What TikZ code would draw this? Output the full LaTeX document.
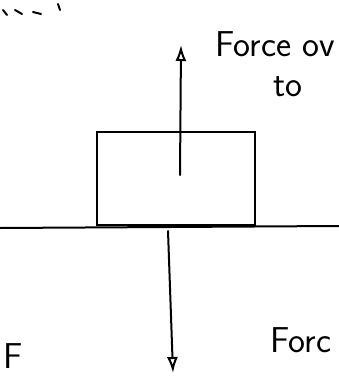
\documentclass[tikz,border=0pt]{standalone}
\usepackage{tikz}
\usetikzlibrary{arrows.meta}

\begin{document}
\begin{tikzpicture}[x=1pt,y=-1pt,>={Latex[length=16pt,width=11pt,open]},
    pen/.style={line width=2pt,line cap=round},
    note/.style={font=\sffamily\fontsize{36}{38}\selectfont,inner sep=0pt},
    block/.style={pen,draw,minimum width=158pt,minimum height=93pt,inner sep=0pt}]
  \useasboundingbox (0,0) rectangle (339,377);
  % ground and the block resting on it
  \coordinate (gl) at (0,228);
  \coordinate (gr) at (339,226);
  \draw[pen] (gl) -- (gr);
  \node[block,anchor=south west] (box) at (96,226) {};
  % force pointing up, from inside the block
  \coordinate (upfoot) at (180,175);
  \coordinate (uptip) at (181,45);
  \draw[pen,->] (upfoot) -- (uptip);
  % force pointing down, below the ground
  \coordinate (dnfoot) at (168,231);
  \coordinate (dntip) at (173,373);
  \draw[pen,->] (dnfoot) -- (dntip);
  % labels
  \node[note,anchor=base west] (upnote) at (215,57) {Force ov};
  \node[note,anchor=base west] (upnote2) at (273,97) {to};
  \node[note,anchor=base west] (dnnote) at (270,352) {Forc};
  \node[note,anchor=base west] (leftnote) at (3,368) {F};
  % stray marks at the top left
  \foreach \a/\b/\c/\d in {3/10/7/15, 15/10/22/14, 33/12/41/14, 58/4/60/10}
    \draw[pen] (\a,\b) -- (\c,\d);
\end{tikzpicture}
\end{document}
